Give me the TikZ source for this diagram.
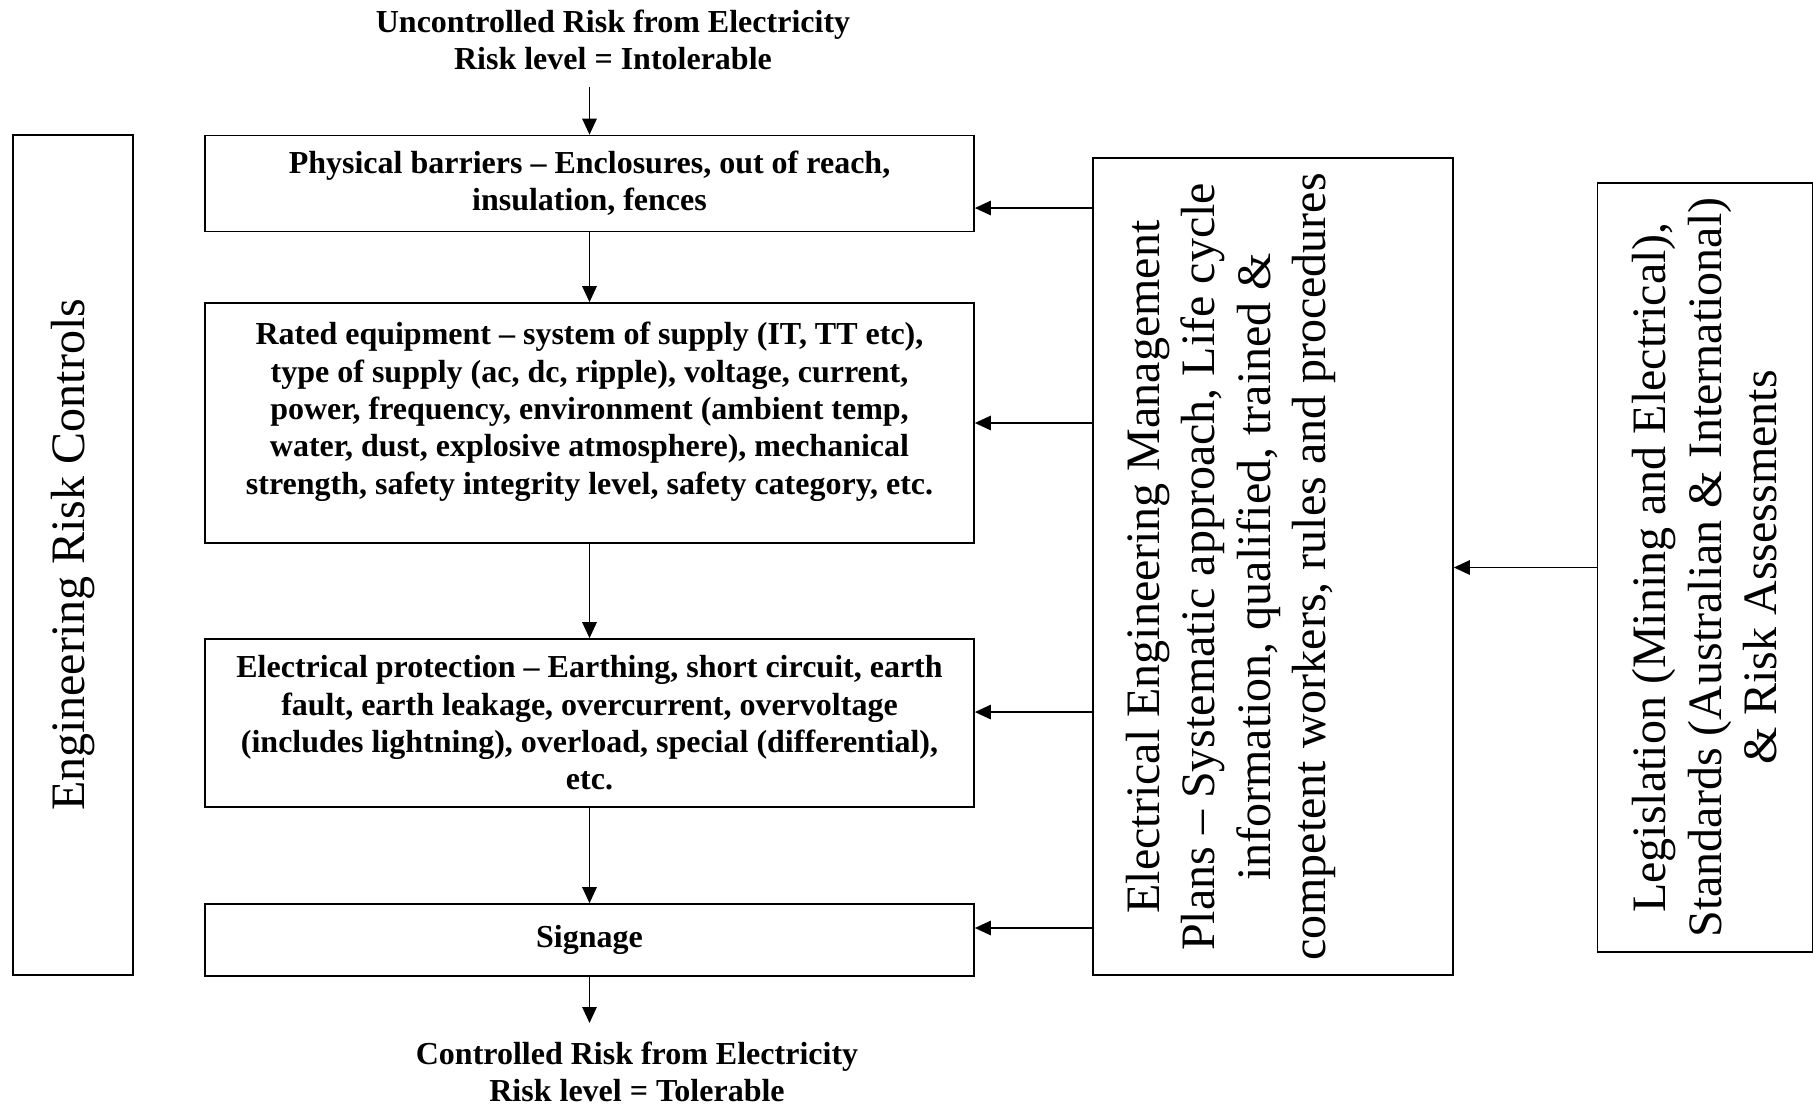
\documentclass[tikz,border=0pt]{standalone}
\usepackage{fontspec}
\setmainfont{Liberation Serif}
\usetikzlibrary{arrows.meta}

\tikzset{
  stage/.style={draw, minimum width=288.4pt, inner sep=0pt, align=center,
    font=\fontsize{12}{14}\selectfont\bfseries},
  ends/.style={align=center, font=\fontsize{12}{14}\selectfont\bfseries},
  side/.style={draw, inner sep=0pt},
  sidetext/.style={rotate=90, align=center, font=\fontsize{18}{20.8}\selectfont},
}

\begin{document}
\begin{tikzpicture}[x=0.375pt, y=-0.375pt, line width=0.6pt, >={Triangle[length=6pt,width=5.4pt]}]
    \useasboundingbox (0,0) rectangle (1813,1107);
    % Risk in and out
    \node[ends] (intol) at (613,40) {Uncontrolled Risk from Electricity\\ Risk level = Intolerable};
    \node[ends] (tol) at (637,1072) {Controlled Risk from Electricity\\ Risk level = Tolerable};
    \coordinate (in) at (589.5,87);
    \coordinate (out) at (589.5,1023);
    % Control stages
    \node[stage, minimum height=36pt] (barrier) at (589.5,183.5)
        {Physical barriers -- Enclosures, out of reach,\\ insulation, fences};
    \node[stage, minimum height=90pt] (rated) at (589.5,423)
        {Rated equipment -- system of supply (IT, TT etc),\\ type of supply (ac, dc, ripple), voltage, current,\\
         power, frequency, environment (ambient temp,\\ water, dust, explosive atmosphere), mechanical\\
         strength, safety integrity level, safety category, etc.\\[-3pt]\rule{0pt}{10pt}};
    \node[stage, minimum height=63pt] (protect) at (589.5,723)
        {Electrical protection -- Earthing, short circuit, earth\\ fault, earth leakage, overcurrent, overvoltage\\
         (includes lightning), overload, special (differential),\\ etc.};
    \node[stage, minimum height=27pt] (sign) at (589.5,940) {Signage};
    \draw[->] (in) -- (barrier);
    \draw[->] (barrier) -- (rated);
    \draw[->] (rated) -- (protect);
    \draw[->] (protect) -- (sign);
    \draw[->] (sign) -- (out);
    % Left label
    \node[side, sidetext, minimum width=315pt, minimum height=45pt] (eng) at (73,555) {Engineering Risk Controls};
    % Management plans
    \node[side, minimum width=135pt, minimum height=306.4pt] (plans) at (1273,566.5) {};
    \node[sidetext] (planstext) at (1231,567)
        {Electrical Engineering Management\\ Plans -- Systematic approach, Life cycle\\
         information, qualified, trained \&\\ competent workers, rules and procedures};
    \foreach \stage/\dy in {barrier/-9.2pt, rated/0pt, protect/4.1pt, sign/4.5pt}{
        \coordinate (\stage-in) at ([yshift=\dy]\stage.east);
        \draw[->] (plans.west |- \stage-in) -- (\stage-in);
    }
    % Legislation
    \node[side, sidetext, minimum width=288.4pt, minimum height=80.6pt] (law) at (1705,567.5)
        {Legislation (Mining and Electrical),\\ Standards (Australian \& International)\\ \& Risk Assessments};
    \draw[->] (law.north) -- (plans.east |- law.north);
\end{tikzpicture}
\end{document}
